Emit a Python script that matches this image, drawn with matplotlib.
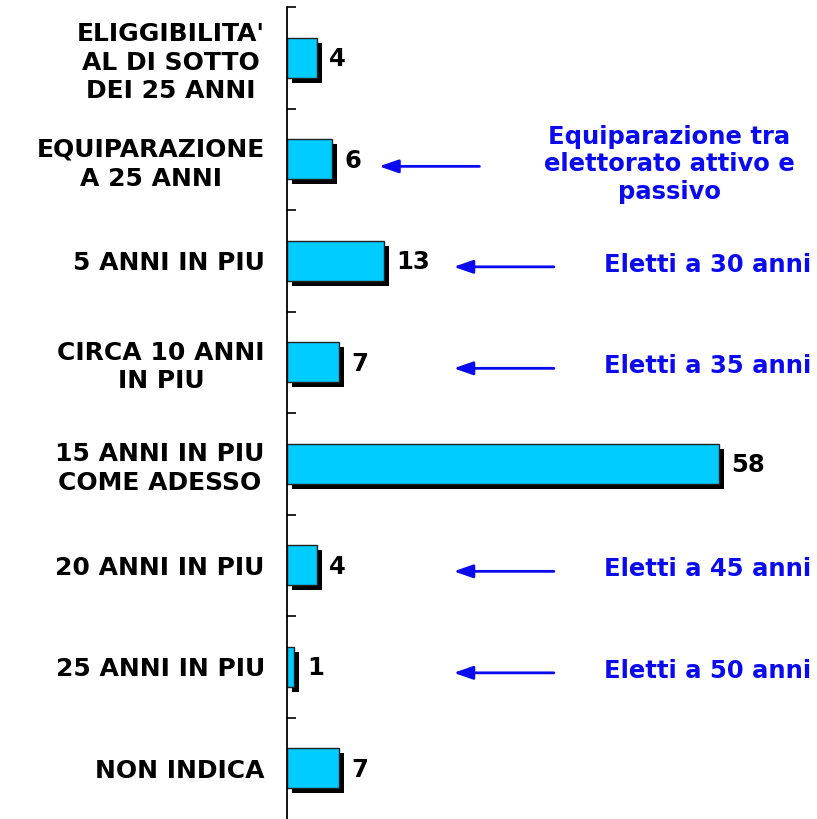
import matplotlib.pyplot as plt
from matplotlib.patheffects import SimplePatchShadow, Normal

categories = ["ELIGGIBILITA'\nAL DI SOTTO\nDEI 25 ANNI",
              "EQUIPARAZIONE\nA 25 ANNI",
              "5 ANNI IN PIU",
              "CIRCA 10 ANNI\nIN PIU",
              "15 ANNI IN PIU\nCOME ADESSO",
              "20 ANNI IN PIU",
              "25 ANNI IN PIU",
              "NON INDICA"]
values = [4, 6, 13, 7, 58, 4, 1, 7]

# notes on the right: (row, text)
notes = [(1, "Equiparazione tra\nelettorato attivo e\npassivo"),
         (2, "Eletti a 30 anni"),
         (3, "Eletti a 35 anni"),
         (5, "Eletti a 45 anni"),
         (6, "Eletti a 50 anni")]

blue = '#0A0AF0'

fig = plt.figure(figsize=(8.17, 8.19), dpi=100)
ax = fig.add_axes([287 / 817, 0, 1 - 287 / 817, 1 - 7 / 819])

rows = list(range(len(values)))
shadow = [SimplePatchShadow(offset=(3.6, -3.6), shadow_rgbFace='black', alpha=1), Normal()]
bars = ax.barh(rows, values, height=0.39, color='#00CCFF', edgecolor='#222222', linewidth=1)
for b in bars:
    b.set_path_effects(shadow)

for r, v in zip(rows, values):
    ax.annotate(str(v), (v, r), xytext=(9, -1), textcoords='offset points',
                ha='left', va='center', fontsize=17.5, fontweight='bold')

ax.set_xlim(0, 530 / 7.45)
ax.set_ylim(7.5, -0.5)

ax.set_yticks(rows)
ax.set_yticklabels(categories, fontsize=18, fontweight='bold', linespacing=1.25)
for lab in ax.get_yticklabels():
    lab.set_multialignment('center')
ax.tick_params(axis='y', which='major', length=0, pad=16)
ax.set_yticks([r - 0.5 for r in rows], minor=True)
ax.tick_params(axis='y', which='minor', direction='in', length=6.5, width=1.2)
ax.set_xticks([])

for s in ['top', 'right', 'bottom']:
    ax.spines[s].set_visible(False)
ax.spines['left'].set_linewidth(1.3)

arrow = dict(arrowstyle='-|>,head_length=1.15,head_width=0.4', color=blue, lw=2)
for r, txt in notes:
    if r == 1:
        ax.annotate('', xy=(12.0, r + 0.07), xytext=(26.2, r + 0.07), arrowprops=arrow)
        ax.text(51.3, r + 0.05, txt, ha='center', va='center', color=blue,
                fontsize=17.5, fontweight='bold', linespacing=1.2)
    else:
        ax.annotate('', xy=(22.0, r + 0.06), xytext=(36.2, r + 0.06), arrowprops=arrow)
        ax.text(70.4, r + 0.04, txt, ha='right', va='center', color=blue,
                fontsize=17.5, fontweight='bold')

fig.savefig('out.png', dpi=100)
